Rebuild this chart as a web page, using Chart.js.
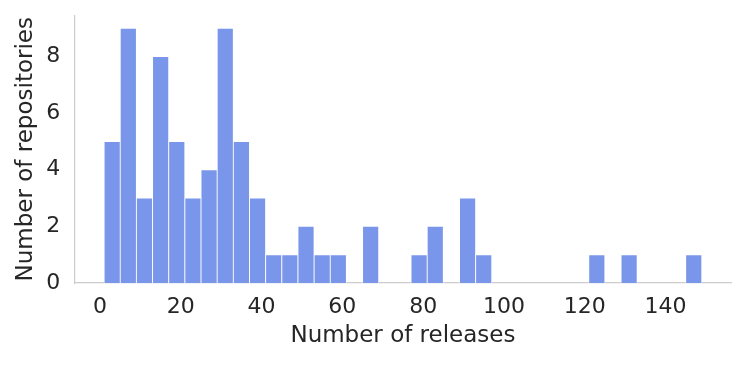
<!DOCTYPE html>
<html>
<head>
<meta charset="utf-8">
<script src="https://cdn.jsdelivr.net/npm/chart.js@4"></script>
<style>
  html, body { margin: 0; padding: 0; background: #fff; }
  #wrap { width: 747px; height: 365px; position: relative; }
</style>
</head>
<body>
<div id="wrap"><canvas id="chart"></canvas></div>
<script>
// histogram of releases per repository, bins of 4 starting at 1
const binStart = 1;
const binWidth = 4;
const counts = [5, 9, 3, 8, 5, 3, 4, 9, 5, 3, 1, 1, 2, 1, 1, 0, 2, 0, 0, 1, 2, 0, 3, 1,
                0, 0, 0, 0, 0, 0, 1, 0, 1, 0, 0, 0, 1];
const xTicks = [0, 20, 40, 60, 80, 100, 120, 140];
const yTicks = [0, 2, 4, 6, 8];

const TEXT = '#262626';
const SPINE = '#cccccc';

// bin centres, empty bins left out
const points = counts
  .map((c, i) => ({ x: binStart + binWidth * (i + 0.5), y: c }))
  .filter(p => p.y > 0);

// matplotlib-like 5% margins on x, 5% headroom on y
const lo = binStart, hi = binStart + binWidth * counts.length;
const xPad = (hi - lo) * 0.05;
const yMax = Math.max(...counts) * 1.05;

new Chart(document.getElementById('chart'), {
  type: 'bar',
  data: {
    datasets: [{
      data: points,
      backgroundColor: '#7a96ea',
      borderColor: 'rgba(255,255,255,0.75)',
      borderWidth: 0.8,
      barPercentage: 1,
      categoryPercentage: 1
    }]
  },
  options: {
    responsive: true,
    maintainAspectRatio: false,
    animation: false,
    layout: { padding: { left: 0, right: 15.3, top: 15.5, bottom: 0 } },
    plugins: { legend: { display: false }, tooltip: { enabled: false } },
    scales: {
      x: {
        type: 'linear',
        offset: false,
        min: lo - xPad,
        max: hi + xPad,
        afterBuildTicks: s => { s.ticks = xTicks.map(v => ({ value: v })); },
        afterFit: s => { s.height = 82; s.paddingLeft = 0; s.paddingRight = 0; },
        grid: { display: false, drawTicks: false },
        border: { display: true, color: SPINE, width: 1.2 },
        ticks: { color: TEXT, padding: 11, maxRotation: 0, font: { family: 'DejaVu Sans', size: 22 } },
        title: {
          display: true,
          text: 'Number of releases',
          color: TEXT,
          font: { family: 'DejaVu Sans', size: 23 },
          padding: { top: 0, bottom: 15 }
        }
      },
      y: {
        min: 0,
        max: yMax,
        afterBuildTicks: s => { s.ticks = yTicks.map(v => ({ value: v })); },
        afterFit: s => { s.width = 74.2; s.paddingTop = 0; s.paddingBottom = 0; },
        grid: { display: false, drawTicks: false },
        border: { display: true, color: SPINE, width: 1.2 },
        ticks: { color: TEXT, padding: 14, font: { family: 'DejaVu Sans', size: 22 } },
        title: {
          display: true,
          text: 'Number of repositories',
          color: TEXT,
          font: { family: 'DejaVu Sans', size: 23 },
          padding: { top: 12, bottom: 0 }
        }
      }
    }
  }
});
</script>
</body>
</html>
